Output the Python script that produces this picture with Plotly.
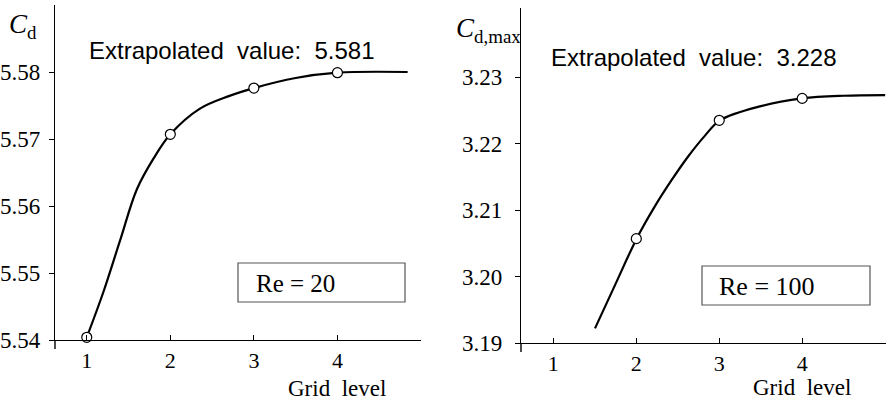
import plotly.graph_objects as go

# ---- data -------------------------------------------------------------
# Re = 20: drag coefficient per grid level and fitted convergence curve
grid_levels_re20 = [1, 2, 3, 4]
cd_re20 = [5.5404, 5.5707, 5.5776, 5.5799]
fit_x_re20 = [1.0, 1.2, 1.4, 1.6, 1.8, 2.0, 2.35, 2.7, 3.0, 3.5, 4.0, 4.84]
fit_y_re20 = [5.5404, 5.5472, 5.5549, 5.5625, 5.5671, 5.5707, 5.5745,
              5.5764, 5.5776, 5.5791, 5.5799, 5.5800]
extrap_re20 = "5.581"

# Re = 100: maximum drag coefficient per grid level and fitted curve
grid_levels_re100 = [2, 3, 4]
cd_re100 = [3.2057, 3.2235, 3.2268]
fit_x_re100 = [1.502, 1.75, 2.004, 2.225, 2.425, 2.627, 2.828, 3.008, 3.49,
               4.0, 4.5, 5.0]
fit_y_re100 = [3.1922, 3.1989, 3.2057, 3.2106, 3.2145, 3.2181, 3.2212, 3.2235,
               3.2256, 3.2268, 3.2272, 3.2273]
extrap_re100 = "3.228"

x_ticks = [1, 2, 3, 4]
y_ticks_re20 = [5.54, 5.55, 5.56, 5.57, 5.58]
y_ticks_re100 = [3.19, 3.20, 3.21, 3.22, 3.23]

# ---- layout helpers (pixel -> paper) ------------------------------------
W, H = 886, 401


def px(x):
    return x / W


def py(y):
    return 1 - y / H


SERIF = "Liberation Serif"
SANS = "Liberation Sans"

fig = go.Figure()

line_style = dict(color="black", width=2.2, shape="spline", smoothing=1.0)
marker_style = dict(symbol="circle", size=10, color="white",
                    line=dict(color="black", width=1.2))

fig.add_trace(go.Scatter(x=fit_x_re20, y=fit_y_re20, mode="lines", line=line_style,
                         xaxis="x", yaxis="y", hoverinfo="skip", cliponaxis=False))
fig.add_trace(go.Scatter(x=grid_levels_re20, y=cd_re20, mode="markers",
                         marker=marker_style, xaxis="x", yaxis="y", cliponaxis=False))
fig.add_trace(go.Scatter(x=fit_x_re100, y=fit_y_re100, mode="lines", line=line_style,
                         xaxis="x2", yaxis="y2", hoverinfo="skip", cliponaxis=False))
fig.add_trace(go.Scatter(x=grid_levels_re100, y=cd_re100, mode="markers",
                         marker=marker_style, xaxis="x2", yaxis="y2", cliponaxis=False))

axis_common = dict(showline=True, linecolor="black", linewidth=1.4, automargin=False,
                   showgrid=False, zeroline=False, ticklen=5, tickwidth=1.2,
                   tickcolor="black")
y_font = dict(family=SERIF, size=23, color="black")
x_font = dict(family=SERIF, size=22, color="black")

fig.update_layout(
    width=W, height=H,
    margin=dict(l=0, r=0, t=0, b=0, autoexpand=False),
    paper_bgcolor="white", plot_bgcolor="white",
    showlegend=False,
    xaxis=dict(domain=[px(55), px(421)], range=[0.62, 5.0], tickvals=x_ticks,
               ticks="inside", ticklabelstandoff=0, tickfont=x_font, anchor="y",
               **axis_common),
    yaxis=dict(domain=[py(340), py(5)], range=[5.54, 5.5900], tickvals=y_ticks_re20,
               tickformat=".2f", ticks="outside", ticklabelstandoff=4, tickfont=y_font,
               anchor="x", **axis_common),
    xaxis2=dict(domain=[px(521), px(886)], range=[0.61, 5.01], tickvals=x_ticks,
                ticks="inside", ticklabelstandoff=0, tickfont=x_font, anchor="y2",
                **axis_common),
    yaxis2=dict(domain=[py(343), py(8)], range=[3.19, 3.2404], tickvals=y_ticks_re100,
                tickformat=".2f", ticks="outside", ticklabelstandoff=8, tickfont=y_font,
                anchor="x2", **axis_common),
)

# short extensions of the vertical axes below the horizontal axes
for x0, y0 in [(55, 340), (521, 343)]:
    fig.add_shape(type="line", xref="paper", yref="paper",
                  x0=px(x0), x1=px(x0), y0=py(y0), y1=py(y0 + 9),
                  line=dict(color="black", width=1.4))

# Reynolds-number boxes
for (x0, y0, x1, y1) in [(238, 263, 405, 302), (702, 266, 870, 305)]:
    fig.add_shape(type="rect", xref="paper", yref="paper",
                  x0=px(x0), x1=px(x1), y0=py(y1), y1=py(y0),
                  line=dict(color="#555555", width=1.2), fillcolor="white", layer="below")

nb = "\u00a0"
annotations = [
    # axis titles
    dict(x=px(7), y=py(26), text="<i>C</i><sub>d</sub>", xanchor="left",
         font=dict(family=SERIF, size=27)),
    dict(x=px(454), y=py(30), text="<i>C</i><sub>d,max</sub>", xanchor="left",
         font=dict(family=SERIF, size=27)),
    dict(x=px(286), y=py(388), text=f"Grid{nb}{nb}level", xanchor="left",
         font=dict(family=SERIF, size=23)),
    dict(x=px(751), y=py(387), text=f"Grid{nb}{nb}level", xanchor="left",
         font=dict(family=SERIF, size=23)),
    # extrapolated values
    dict(x=px(87), y=py(51), text=f"Extrapolated{nb}{nb}value:{nb}{nb}{extrap_re20}",
         xanchor="left", font=dict(family=SANS, size=24)),
    dict(x=px(549), y=py(57), text=f"Extrapolated{nb}{nb}value:{nb}{nb}{extrap_re100}",
         xanchor="left", font=dict(family=SANS, size=24)),
    # Reynolds numbers
    dict(x=px(254), y=py(283), text="Re = 20", xanchor="left",
         font=dict(family=SERIF, size=25)),
    dict(x=px(717), y=py(286), text="Re = 100", xanchor="left",
         font=dict(family=SERIF, size=26)),
]
for a in annotations:
    a.update(xref="paper", yref="paper", yanchor="middle", showarrow=False)
    a["font"]["color"] = "black"
    fig.add_annotation(**a)

fig.write_html("out.html")
